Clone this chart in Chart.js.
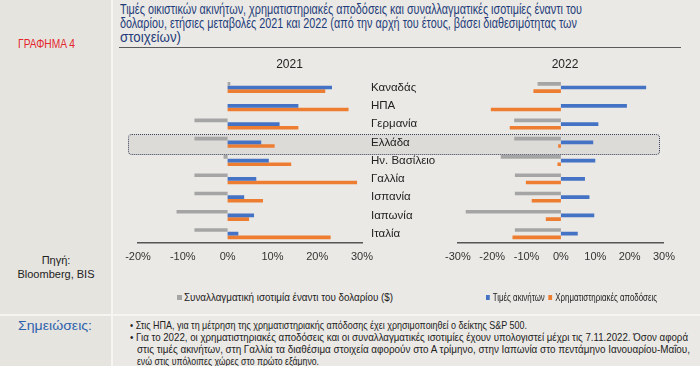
<!DOCTYPE html>
<html><head><meta charset="utf-8">
<script src="https://cdn.jsdelivr.net/npm/chart.js@4.4.0/dist/chart.umd.min.js"></script>
<style>
html,body{margin:0;padding:0;}
body{width:700px;height:366px;position:relative;background:#f6f5f2;overflow:hidden;font-family:"Liberation Sans",Arial,sans-serif;}
.abs{position:absolute;}
.fit{position:absolute;white-space:nowrap;transform-origin:0 50%;}
#side{left:0;top:0;width:111px;height:314px;background:#e6e4df;}
#main{left:113px;top:0;width:587px;height:314px;background:#ebe9e5;}
#nside{left:0;top:316px;width:111px;height:50px;background:#e6e4df;}
#nmain{left:113px;top:316px;width:587px;height:50px;background:#ebe9e5;}
.tt{font-size:14px;line-height:14px;color:#1f3d7a;}
#rule{left:119px;top:47px;width:562px;height:0;border-top:1.5px solid #5a5a5a;}
.fig{font-size:12px;line-height:12px;color:#e3262d;}
#src{left:0;top:253px;width:112px;text-align:center;font-size:11px;line-height:14px;color:#222;}
.nl{font-size:13.5px;line-height:14px;color:#2e62ad;}
.nt{font-size:10.5px;line-height:11px;color:#222;}
#hl{left:128px;top:134px;width:530px;height:19px;border:1.5px dotted #3b4660;border-radius:4px;background:#dddbd7;}
#c1{left:113px;top:50px;width:328px;height:222px;}
#c2{left:437px;top:50px;width:246px;height:222px;}
.lg{font-size:10.5px;line-height:11px;color:#222;}
.sw{position:absolute;width:5px;height:5px;}
.isw{display:inline-block;width:5px;height:5px;margin-right:4px;vertical-align:1px;}
</style></head>
<body>
<div id="side" class="abs"></div>
<div id="main" class="abs"></div>
<div id="nside" class="abs"></div>
<div id="nmain" class="abs"></div>
<span class="fit tt" style="left:120px;top:2px" data-w="462">Τιμές οικιστικών ακινήτων, χρηματιστηριακές αποδόσεις και συναλλαγματικές ισοτιμίες έναντι του</span>
<span class="fit tt" style="left:120px;top:16px" data-w="457">δολαρίου, ετήσιες μεταβολές 2021 και 2022 (από την αρχή του έτους, βάσει διαθεσιμότητας των</span>
<span class="fit tt" style="left:120px;top:30px" data-w="61">στοιχείων)</span>
<div id="rule" class="abs"></div>
<span class="fit fig" style="left:18px;top:38px" data-w="57">ΓΡΑΦΗΜΑ 4</span>
<div id="src" class="abs">Πηγή:<br>Bloomberg, BIS</div>
<span class="fit nl" style="left:18px;top:319px" data-w="74">Σημειώσεις:</span>
<span class="fit nt" style="left:130px;top:320px" data-w="397">• Στις ΗΠΑ, για τη μέτρηση της χρηματιστηριακής απόδοσης έχει χρησιμοποιηθεί ο δείκτης S&amp;P 500.</span>
<span class="fit nt" style="left:130px;top:332px" data-w="558">• Για το 2022, οι χρηματιστηριακές αποδόσεις και οι συναλλαγματικές ισοτιμίες έχουν υπολογιστεί μέχρι τις 7.11.2022. Όσον αφορά</span>
<span class="fit nt" style="left:137px;top:344px" data-w="553">στις τιμές ακινήτων, στη Γαλλία τα διαθέσιμα στοιχεία αφορούν στο Α τρίμηνο, στην Ιαπωνία στο πεντάμηνο Ιανουαρίου-Μαΐου,</span>
<span class="fit nt" style="left:137px;top:356px" data-w="182">ενώ στις υπόλοιπες χώρες στο πρώτο εξάμηνο.</span>
<div id="hl" class="abs"></div>
<div id="c1" class="abs"><canvas id="ch1"></canvas></div>
<div id="c2" class="abs"><canvas id="ch2"></canvas></div>
<div class="sw" style="left:177px;top:295px;background:#a5a5a5"></div>
<span class="fit lg" style="left:184px;top:292px" data-w="209">Συναλλαγματική ισοτιμία έναντι του δολαρίου ($)</span>
<span class="fit lg" style="left:486px;top:292px" data-w="171"><span class="isw" style="background:#4472c4"></span>Τιμές ακινήτων <span class="isw" style="background:#ed7d31;margin-left:2px"></span>Χρηματιστηριακές αποδόσεις</span>
<script>
const categories = ['Καναδάς','ΗΠΑ','Γερμανία','Ελλάδα','Ην. Βασίλειο','Γαλλία','Ισπανία','Ιαπωνία','Ιταλία'];
const fx2021    = [0.6, 0, -7.4, -7.4, -0.9, -7.4, -7.4, -11.4, -7.4];
const house2021 = [23.3, 15.8, 11.6, 7.5, 9.2, 6.4, 3.7, 5.9, 2.4];
const stock2021 = [21.8, 27.0, 15.8, 10.5, 14.2, 28.9, 7.9, 4.8, 23.0];
const fx2022    = [-6.8, 0, -13.6, -13.6, -17.5, -13.4, -13.4, -27.7, -13.4];
const house2022 = [24.8, 19.2, 10.9, 9.4, 10.0, 7.0, 8.3, 9.7, 4.9];
const stock2022 = [-8.0, -20.4, -14.9, -0.8, -1.0, -10.2, -8.5, -4.4, -14.1];
const ticks2021 = [-20, -10, 0, 10, 20, 30];
const ticks2022 = [-30, -20, -10, 0, 10, 20, 30];
const seriesNames = ['Συναλλαγματική ισοτιμία έναντι του δολαρίου ($)','Τιμές ακινήτων','Χρηματιστηριακές αποδόσεις'];
const colors = ['#a5a5a5','#4472c4','#ed7d31'];

document.querySelectorAll('.fit').forEach(el => {
  const w = el.getBoundingClientRect().width;
  const target = parseFloat(el.dataset.w);
  el.style.transform = 'scaleX(' + (target / w) + ')';
});

function makeChart(id, year, fx, house, stock, tickVals, showY, pad){
  const ds = [fx, house, stock].map((d,i)=>({
    label: seriesNames[i], data: d, backgroundColor: colors[i],
    categoryPercentage: 0.6, barPercentage: 1.0, borderWidth: 0
  }));
  const yAxis = {
    display: showY, position: 'right',
    grid: { display: false, drawTicks: false },
    border: { display: false },
    ticks: { crossAlign: 'near', padding: 9, color: '#222',
      font: { family: 'Liberation Sans', size: 11.5 } }
  };
  if (showY) yAxis.afterFit = (s) => { s.width = 79; };
  return new Chart(document.getElementById(id), {
    type: 'bar',
    data: { labels: categories, datasets: ds },
    options: {
      indexAxis: 'y', responsive: true, maintainAspectRatio: false, animation: false,
      layout: { padding: pad },
      plugins: {
        legend: { display: false }, tooltip: { enabled: false },
        title: { display: true, text: year, color: '#222',
          font: { family: 'Liberation Sans', size: 12, weight: 'normal' }, padding: { top: 7, bottom: 7 } }
      },
      scales: {
        x: {
          min: tickVals[0], max: tickVals[tickVals.length-1],
          afterBuildTicks: (s) => { s.ticks = tickVals.map(v => ({ value: v })); },
          grid: { display: false, drawTicks: false },
          border: { display: true, color: '#555', width: 1.5 },
          ticks: { padding: 8, color: '#333', maxRotation: 0, minRotation: 0, autoSkip: false,
            font: { family: 'Liberation Sans', size: 11 },
            callback: (v) => v + '%' }
        },
        y: yAxis
      }
    }
  });
}
makeChart('ch1', '2021', fx2021, house2021, stock2021, ticks2021, true, { left: 25, right: 0, top: 0, bottom: 0 });
makeChart('ch2', '2022', fx2022, house2022, stock2022, ticks2022, false, { left: 15, right: 5, top: 0, bottom: 0 });
</script>
</body></html>
